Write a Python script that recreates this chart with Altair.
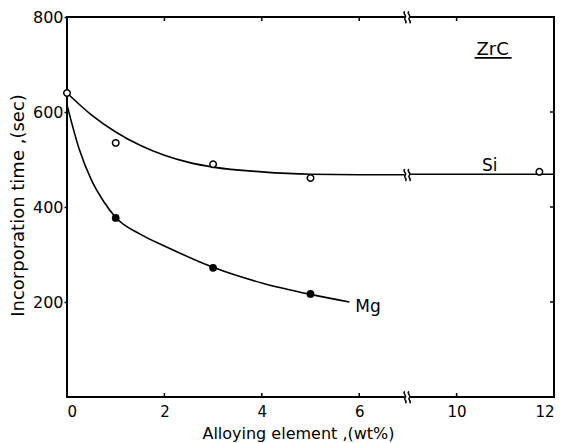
import altair as alt
import pandas as pd

# Measured incorporation times (sec) vs. alloying addition (wt%)
si_x = [0, 1, 3, 5, 11.7]
si_y = [640, 535, 490, 461, 474]
mg_x = [1, 3, 5]
mg_y = [377, 272, 217]

# Hand-drawn trend curves through the measurements
si_curve_x = [0, 0.5, 1, 1.5, 2, 2.5, 3, 4, 5, 6, 7, 9, 12]
si_curve_y = [640, 594, 558, 530, 509, 494, 484, 474, 469, 468, 468, 469, 469]
mg_curve_x = [0, 0.25, 0.5, 0.75, 1, 1.5, 2, 3, 4, 5, 5.8]
mg_curve_y = [615, 522, 457, 412, 378, 343, 318, 273, 240, 216, 200]

# Axis layout: the x axis is broken between 7 and 9 wt%
x_label_values = [0, 2, 4, 6, 10, 12]
x_minor_ticks = [2, 4, 6, 10]
y_label_values = [200, 400, 600, 800]
y_right_ticks = [200, 400, 600]
break_x = 7
break_y = [0, 800, 468]

# Annotations
label_text = ["Si", "Mg"]
label_x = [10.52, 5.92]
label_y = [476, 179]
title_text = ["ZrC"]
title_x = [10.74]
title_y = [720]
underline_x = [10.37]
underline_x2 = [11.13]
underline_y = [714]

FONT = "DejaVu Sans"
W, H = 487, 380

# Map real wt% onto the compressed axis (skip 7..9)
VX = "datum.x > 7 ? datum.x - 2 : datum.x"

xs = alt.Scale(domain=[0, 10], nice=False, zero=False)
ys = alt.Scale(domain=[0, 800], nice=False)


def vx_enc(**kw):
    return alt.X("vx:Q", scale=xs, **kw)


x_axis = alt.Axis(
    values=[v - 2 if v > 7 else v for v in x_label_values],
    labelExpr="datum.value > 7 ? format(datum.value + 2, 'd') : datum.label",
    title="Alloying element ,(wt%)",
    tickSize=0, labelPadding=7, domain=False, grid=False,
    labelFont=FONT, labelFontSize=15, labelColor="black",
    titleFont=FONT, titleFontSize=16, titleFontWeight="normal", titleColor="black",
    titleX=231, titleY=41, titleAlign="center", titleBaseline="alphabetic",
)
y_axis = alt.Axis(
    values=y_label_values, title="Incorporation time ,(sec)",
    tickSize=3, tickWidth=1.5, tickColor="black", labelPadding=1,
    domain=False, grid=False,
    labelFont=FONT, labelFontSize=16, labelColor="black",
    titleFont=FONT, titleFontSize=18, titleFontWeight="normal", titleColor="black",
    titleX=-49, titleY=188, titleBaseline="middle", titleAlign="center",
)

si_pts = pd.DataFrame({"x": si_x, "y": si_y})
mg_pts = pd.DataFrame({"x": mg_x, "y": mg_y})
si_curve = pd.DataFrame({"x": si_curve_x, "y": si_curve_y})
mg_curve = pd.DataFrame({"x": mg_curve_x, "y": mg_curve_y})

si_line = (
    alt.Chart(si_curve).transform_calculate(vx=VX)
    .mark_line(color="black", strokeWidth=1.6, interpolate="monotone")
    .encode(x=vx_enc(axis=x_axis), y=alt.Y("y:Q", scale=ys, axis=y_axis), order="x:Q")
)
mg_line = (
    alt.Chart(mg_curve).transform_calculate(vx=VX)
    .mark_line(color="black", strokeWidth=1.6, interpolate="monotone")
    .encode(x=vx_enc(), y=alt.Y("y:Q", scale=ys), order="x:Q")
)

# Axis break symbol: white gap + two wavy strokes
break_df = pd.DataFrame({"x": [break_x] * len(break_y), "y": break_y})
gap_shape = "M -0.45 -0.55 L 0.3 -0.55 L 0.3 0.55 L -0.45 0.55 Z"
wave_shape = (
    "M -0.45 -0.8 C -0.85 -0.45 -0.05 -0.25 -0.4 0.1 C -0.7 0.4 0 0.55 -0.35 0.9 "
    "M 0.15 -0.8 C -0.25 -0.45 0.55 -0.25 0.2 0.1 C -0.1 0.4 0.6 0.55 0.25 0.9"
)
break_gap = (
    alt.Chart(break_df).transform_calculate(vx=VX)
    .mark_point(shape=gap_shape, filled=True, fill="white", strokeWidth=0, opacity=1, size=196)
    .encode(x=vx_enc(), y=alt.Y("y:Q", scale=ys))
)
break_wave = (
    alt.Chart(break_df).transform_calculate(vx=VX)
    .mark_point(shape=wave_shape, filled=False, color="black", strokeWidth=1.5, opacity=1, size=196)
    .encode(x=vx_enc(), y=alt.Y("y:Q", scale=ys))
)

si_marks = (
    alt.Chart(si_pts).transform_calculate(vx=VX)
    .mark_point(shape="circle", filled=True, fill="white", stroke="black",
                strokeWidth=1.5, size=42, opacity=1)
    .encode(x=vx_enc(), y=alt.Y("y:Q", scale=ys))
)
mg_marks = (
    alt.Chart(mg_pts).transform_calculate(vx=VX)
    .mark_point(shape="circle", filled=True, color="black", size=60, opacity=1)
    .encode(x=vx_enc(), y=alt.Y("y:Q", scale=ys))
)

# Inward minor ticks on the top and bottom edges, and on the right edge
xt = pd.DataFrame({"x": x_minor_ticks})
bottom_ticks = (
    alt.Chart(xt).transform_calculate(vx=VX)
    .mark_rule(color="black", strokeWidth=1.5)
    .encode(x=vx_enc(), y=alt.value(H), y2=alt.value(H - 4))
)
top_ticks = (
    alt.Chart(xt).transform_calculate(vx=VX)
    .mark_rule(color="black", strokeWidth=1.5)
    .encode(x=vx_enc(), y=alt.value(0), y2=alt.value(4))
)
right_ticks = (
    alt.Chart(pd.DataFrame({"y": y_right_ticks}))
    .mark_rule(color="black", strokeWidth=1.5)
    .encode(y=alt.Y("y:Q", scale=ys), x=alt.value(W - 4), x2=alt.value(W))
)

labels = (
    alt.Chart(pd.DataFrame({"x": label_x, "y": label_y, "t": label_text}))
    .transform_calculate(vx=VX)
    .mark_text(font=FONT, fontSize=17, align="left", baseline="alphabetic", color="black")
    .encode(x=vx_enc(), y=alt.Y("y:Q", scale=ys), text="t:N")
)
zrc = (
    alt.Chart(pd.DataFrame({"x": title_x, "y": title_y, "t": title_text}))
    .transform_calculate(vx=VX)
    .mark_text(font=FONT, fontSize=18, align="center", baseline="alphabetic", color="black")
    .encode(x=vx_enc(), y=alt.Y("y:Q", scale=ys), text="t:N")
)
zrc_underline = (
    alt.Chart(pd.DataFrame({"x": underline_x, "x2": underline_x2, "y": underline_y}))
    .transform_calculate(vx=VX, vx2="datum.x2 > 7 ? datum.x2 - 2 : datum.x2")
    .mark_rule(color="black", strokeWidth=1.8)
    .encode(x=vx_enc(), x2="vx2:Q", y=alt.Y("y:Q", scale=ys))
)

chart = (
    alt.layer(
        si_line, mg_line, break_gap, break_wave, si_marks, mg_marks,
        bottom_ticks, top_ticks, right_ticks, labels, zrc, zrc_underline,
    )
    .properties(
        width=W, height=H,
        autosize=alt.AutoSizeParams(type="none"),
        padding={"left": 67, "top": 17, "right": 14, "bottom": 46},
        background="white",
    )
    .configure_view(stroke="black", strokeWidth=2)
)

chart.save("out.html", embed_options={"renderer": "svg", "actions": False})
